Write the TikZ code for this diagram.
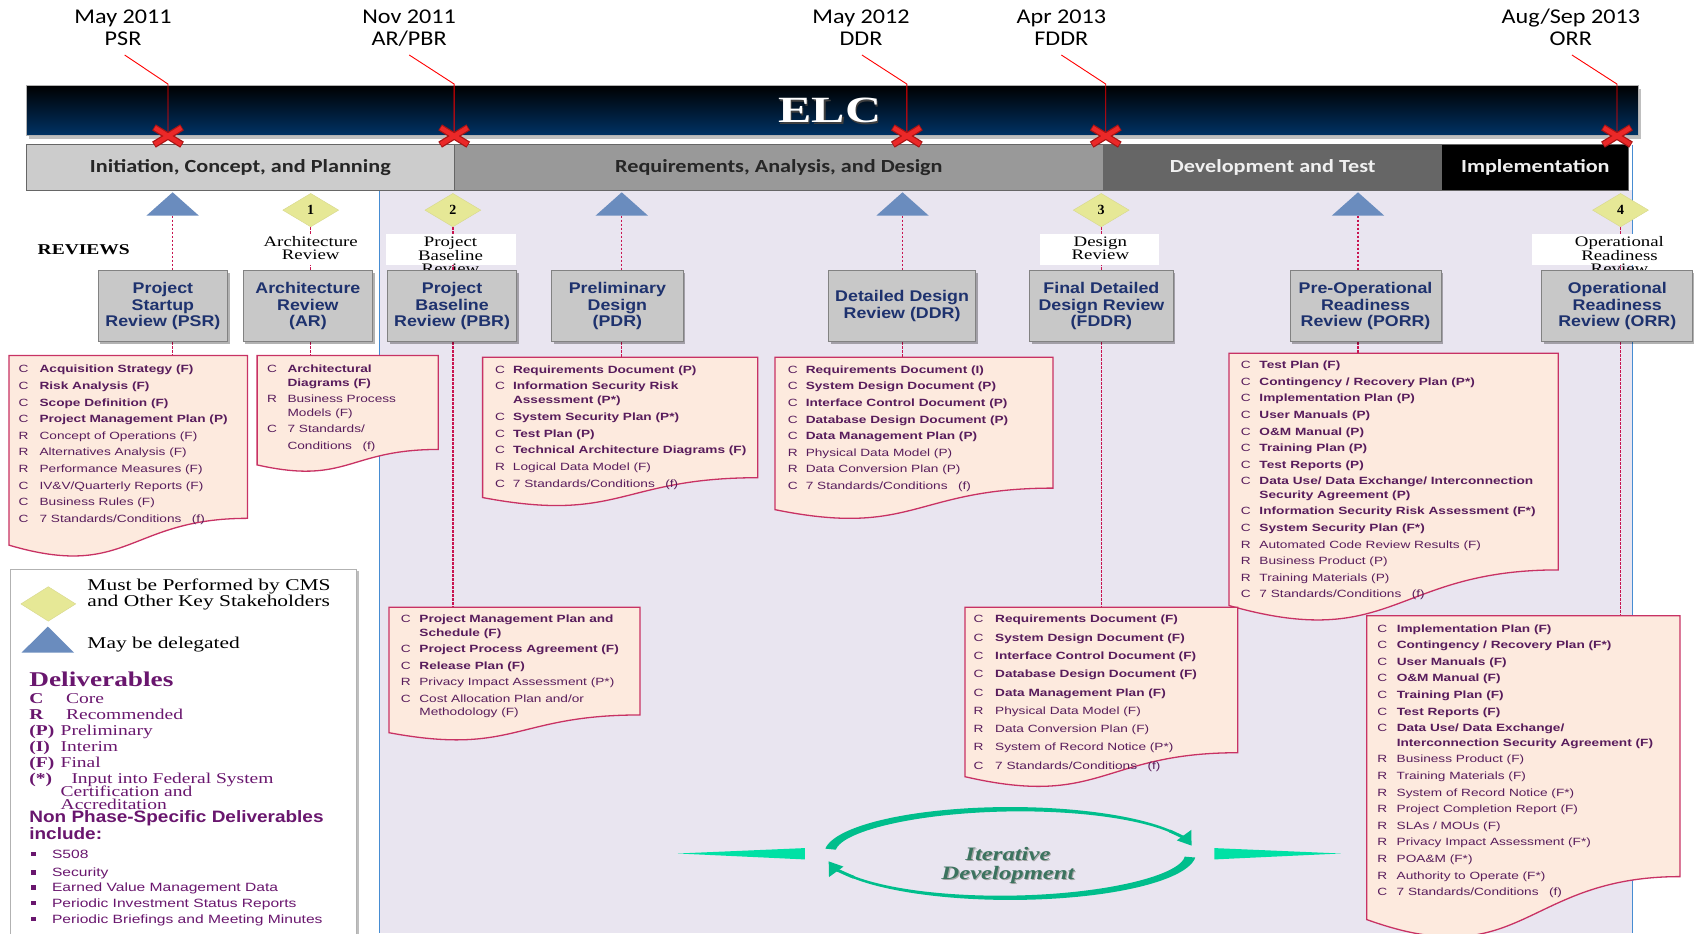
\documentclass[tikz,border=0pt]{standalone}
\usepackage{fontspec}
\usepackage{array}
\usetikzlibrary{shapes.geometric,arrows.meta,shadows,fit}
\setmainfont{Liberation Serif}
\newfontfamily\datefont{Carlito}[FakeStretch=1.15]
\newfontfamily\phasefont{Carlito}[FakeStretch=1.2]
\newfontfamily\elcfont{Liberation Serif}[FakeStretch=1.35]
\newfontfamily\revfont{Liberation Sans}[FakeStretch=1.15]
\newfontfamily\delfont{Liberation Sans}[FakeStretch=1.3]
\newfontfamily\labfont{Liberation Serif}[FakeStretch=1.3]
\newfontfamily\legsans{Liberation Sans}[FakeStretch=1.15]
\newfontfamily\bulfont{Liberation Sans}[FakeStretch=1.3]
\definecolor{lav}{RGB}{233,229,240}
\definecolor{navytxt}{RGB}{30,50,110}
\definecolor{delc}{RGB}{88,28,92}
\definecolor{docfill}{RGB}{253,234,222}
\definecolor{docline}{RGB}{200,50,100}
\definecolor{dashc}{RGB}{200,20,80}
\definecolor{triblue}{RGB}{106,140,190}
\definecolor{diayel}{RGB}{230,232,150}
\definecolor{diaedge}{RGB}{215,215,140}
\definecolor{revfill}{RGB}{200,200,200}
\definecolor{revline}{RGB}{130,130,130}
\definecolor{tealA}{RGB}{0,190,140}
\definecolor{tealB}{RGB}{0,225,165}
\definecolor{bluel}{RGB}{70,140,210}
\definecolor{legp}{RGB}{105,22,110}
\definecolor{itertxt}{RGB}{60,115,95}
\definecolor{elcblue}{RGB}{0,50,100}
\definecolor{xred}{RGB}{235,40,40}
\definecolor{xdark}{RGB}{170,20,20}
\definecolor{phA}{RGB}{204,204,204}
\definecolor{phB}{RGB}{153,153,153}
\definecolor{phC}{RGB}{102,102,102}
\pgfdeclarelayer{bg}
\pgfsetlayers{bg,main}
\newcommand\docshape[4]{%
  \draw[docst] (#1,#2) -- (#3,#2) -- (#3,{#2+0.802*#4}) .. controls ({(#1+#3)/2},{#2+0.802*#4}) and ({(#1+#3)/2},{#2+1.1075*#4}) .. (#1,{#2+0.934*#4}) -- cycle;}
\newcommand\tri[3]{%
  \fill[triblue] ({#2-24.25},#3) -- (#2,{#3-21.6}) -- ({#2+24.25},#3) -- cycle;
  \coordinate (#1) at (#2,#3);}
\newcommand\xmk[3]{%
  \coordinate (#1) at (#2,#3);
  \draw[line width=7pt, xdark] ({#2-13},{#3-8}) -- ({#2+13},{#3+8}) ({#2-13},{#3+8}) -- ({#2+13},{#3-8});
  \draw[line width=4.5pt, xred] ({#2-12.3},{#3-7.6}) -- ({#2+12.3},{#3+7.6}) ({#2-12.3},{#3+7.6}) -- ({#2+12.3},{#3-7.6});}
\newcommand\rbox[7]{%
  \node[#6, minimum width={(#4-#2)*1.0804pt}, minimum height={(#5-#3)*1.0804pt}] (#1) at ({(#2+#4)/2},{(#3+#5)/2}) {#7};}
\begin{document}
\begin{tikzpicture}[x=1.0804pt,y=-1.0804pt,
  docst/.style={fill=docfill, draw=docline, line width=1.3pt},
  dtxt/.style={inner sep=0pt, anchor=base west, text=delc, font=\delfont\fontsize{10.5}{#1}\selectfont},
  rev/.style={draw=revline, fill=revfill, line width=0.9pt, inner sep=0pt, align=center, text=navytxt,
    font=\revfont\bfseries\fontsize{15.5}{16.7}\selectfont,
    drop shadow={shadow xshift=2pt, shadow yshift=-2pt, fill=black, opacity=0.3}},
  phase/.style={draw=black!60, line width=0.8pt, inner sep=0pt, font=\phasefont\bfseries\fontsize{18.5}{20}\selectfont},
  dia/.style={diamond, fill=diayel, draw=diaedge, inner sep=0pt, minimum width=56pt, minimum height=33.5pt,
    font=\bfseries\fontsize{14}{14}\selectfont},
  dsh/.style={draw=dashc, line width=1.3pt, dash pattern=on 2.5pt off 1.5pt},
  redl/.style={draw=red, line width=0.9pt},
  dt/.style={inner sep=0pt, anchor=base, font=\datefont\fontsize{21}{22.4}\selectfont},
  lab/.style={inner sep=0pt, anchor=base, font=\labfont\fontsize{14.5}{12.8}\selectfont},
  legs/.style={inner sep=0pt, anchor=base west, font=\labfont\fontsize{16.5}{16.2}\selectfont},
  legd/.style={inner sep=0pt, anchor=base west, text=legp, font=\labfont\fontsize{15}{15}\selectfont},
  bul/.style={inner sep=0pt, anchor=base west, text=legp, font=\bulfont\fontsize{12}{12}\selectfont}
]
\useasboundingbox (0,0) rectangle (1568,864);
\clip (0,0) rectangle (1568,864);

% ---------- ELC bar and phases ----------
\node[fit={(24.5,78.7) (1516.6,125)}, inner sep=0pt, top color=black, bottom color=elcblue, draw=gray!60,
  drop shadow={shadow xshift=3pt, shadow yshift=-4pt, fill=black, opacity=0.25}] (elc) {};
\node[text=black!75, font=\elcfont\bfseries\fontsize{37}{37}\selectfont] at (769.5,104) {ELC};
\node[text=white, font=\elcfont\bfseries\fontsize{37}{37}\selectfont] (elct) at (768,102.5) {ELC};

\rbox{ph1}{24.5}{134}{420.4}{176}{phase, fill=phA, text=black!85}{Initiation, Concept, and Planning}
\rbox{ph2}{420.4}{134}{1021.5}{176}{phase, fill=phB, text=black!85}{Requirements, Analysis, and Design}
\rbox{ph3}{1021.5}{134}{1334.6}{176}{phase, fill=phC, text=white!94!black}{Development and Test}
\rbox{ph4}{1334.6}{134}{1507.7}{176}{phase, fill=black, text=white!94!black}{Implementation}

% ---------- dates and red markers ----------
\node[dt] (dt1) at (113.9,21.3) {\begin{tabular}[t]{@{}c@{}}May 2011\\PSR\end{tabular}};
\node[dt] (dt2) at (378.7,21.3) {\begin{tabular}[t]{@{}c@{}}Nov 2011\\AR/PBR\end{tabular}};
\node[dt] (dt3) at (797,21.3) {\begin{tabular}[t]{@{}c@{}}May 2012\\DDR\end{tabular}};
\node[dt] (dt4) at (982.4,21.3) {\begin{tabular}[t]{@{}c@{}}Apr 2013\\FDDR\end{tabular}};
\node[dt] (dt5) at (1454,21.3) {\begin{tabular}[t]{@{}c@{}}Aug/Sep 2013\\ORR\end{tabular}};
\coordinate (ra1) at (115.4,50.9); \coordinate (rb1) at (155.5,77.8);
\coordinate (ra2) at (378.8,50.9); \coordinate (rb2) at (420.4,77.8);
\coordinate (ra3) at (797.8,50.9); \coordinate (rb3) at (839.4,77.8);
\coordinate (ra4) at (982.4,50.9); \coordinate (rb4) at (1023.5,77.8);
\coordinate (ra5) at (1455,50.9); \coordinate (rb5) at (1496.7,77.8);
\coordinate (xc1) at (155.5,125.9); \coordinate (xc2) at (420.4,125.9);
\coordinate (xc3) at (839.4,125.9); \coordinate (xc4) at (1023.5,125.9);
\coordinate (xc5) at (1496.7,125.9);
\foreach \i in {1,...,5} {\draw[redl] (ra\i) -- (rb\i) -- (xc\i);}
\xmk{x1}{155.5}{125.9}
\xmk{x2}{420.4}{125.9}
\xmk{x3}{839.4}{125.9}
\xmk{x4}{1023.5}{125.9}
\xmk{x5}{1496.7}{125.9}

% ---------- triangles and diamonds ----------
\tri{tpsr}{159.8}{199.6}
\tri{tpdr}{575.5}{199.6}
\tri{tddr}{835.4}{199.6}
\tri{tporr}{1257}{199.6}
\node[dia] (d1) at (287.6,194.5) {1};
\node[dia] (d2) at (419.2,194.5) {2};
\node[dia] (d3) at (1019.3,194.5) {3};
\node[dia] (d4) at (1500,194.5) {4};

\node[font=\labfont\bfseries\fontsize{15}{15}\selectfont] (reviews) at (77.5,231.5) {REVIEWS};

% ---------- review boxes ----------
\rbox{psr}{91}{250.5}{210.6}{316.2}{rev}{Project\\Startup\\Review (PSR)}
\rbox{ar}{225}{250.5}{345}{316.2}{rev}{Architecture\\Review\\(AR)}
\rbox{pbr}{358.7}{250.5}{478.3}{316.2}{rev}{Project\\Baseline\\Review (PBR)}
\rbox{pdr}{510.5}{250.5}{632.4}{316.2}{rev}{Preliminary\\Design\\(PDR)}
\rbox{ddr}{767}{250.5}{903}{316.2}{rev}{Detailed Design\\Review (DDR)}
\rbox{fddr}{953}{250.5}{1086}{316.2}{rev}{Final Detailed\\Design Review\\(FDDR)}
\rbox{porr}{1194}{250.5}{1334}{316.2}{rev}{Pre-Operational\\Readiness\\Review (PORR)}
\rbox{orr}{1427}{250.5}{1567}{316.2}{rev}{Operational\\Readiness\\Review (ORR)}

% ---------- deliverable documents ----------
\coordinate (dpsr) at (159.8,329); \coordinate (dar) at (287.6,329);
\coordinate (dpbr) at (419.2,562); \coordinate (dpdr) at (575.5,330.7);
\coordinate (dddr) at (835.4,330.7); \coordinate (dfddr) at (1019.3,562);
\coordinate (dporr) at (1257,327); \coordinate (dorr) at (1500,570);

\docshape{8.3}{329}{229}{188}
\docshape{238}{329}{405.7}{108.5}
\docshape{446.7}{330.7}{701.4}{139}
\docshape{717.3}{330.7}{974.6}{151}
\docshape{360}{562}{592.4}{124.4}
\docshape{1137.6}{327}{1442.4}{250}
\docshape{893.2}{562}{1145.6}{168}
\docshape{1265}{570}{1555}{301}

\node[dtxt=16.6] (lpsr) at (17,345.1) {\begin{tabular}[t]{@{}p{21pt}@{}l@{}}
C&\textbf{Acquisition Strategy (F)}\\
C&\textbf{Risk Analysis (F)}\\
C&\textbf{Scope Definition (F)}\\
C&\textbf{Project Management Plan (P)}\\
R&Concept of Operations (F)\\
R&Alternatives Analysis (F)\\
R&Performance Measures (F)\\
C&IV\&V/Quarterly Reports (F)\\
C&Business Rules (F)\\
C&7 Standards/Conditions\quad(f)
\end{tabular}};

\node[dtxt=16.6] (lar) at (247,345.1) {\begin{tabular}[t]{@{}p{20.5pt}@{}l@{}}
C&\textbf{Architectural}\\[-3.3pt]
&\textbf{Diagrams (F)}\\
R&Business Process\\[-3.3pt]
&Models (F)\\
C&7 Standards/\\
&Conditions\quad(f)
\end{tabular}};

\node[dtxt=16.7] (lpdr) at (458,345.3) {\begin{tabular}[t]{@{}p{18pt}@{}l@{}}
C&\textbf{Requirements Document (P)}\\
C&\textbf{Information Security Risk}\\[-2.8pt]
&\textbf{Assessment (P*)}\\
C&\textbf{System Security Plan (P*)}\\
C&\textbf{Test Plan (P)}\\
C&\textbf{Technical Architecture Diagrams (F)}\\
R&Logical Data Model (F)\\
C&7 Standards/Conditions\quad(f)
\end{tabular}};

\node[dtxt=16.65] (lddr) at (729,345.3) {\begin{tabular}[t]{@{}p{18pt}@{}l@{}}
C&\textbf{Requirements Document (I)}\\
C&\textbf{System Design Document (P)}\\
C&\textbf{Interface Control Document (P)}\\
C&\textbf{Database Design Document (P)}\\
C&\textbf{Data Management Plan (P)}\\
R&Physical Data Model (P)\\
R&Data Conversion Plan (P)\\
C&7 Standards/Conditions\quad(f)
\end{tabular}};

\node[dtxt=16.6] (lpbr) at (370.8,576.5) {\begin{tabular}[t]{@{}p{18.6pt}@{}l@{}}
C&\textbf{Project Management Plan and}\\[-3.3pt]
&\textbf{Schedule (F)}\\
C&\textbf{Project Process Agreement (F)}\\
C&\textbf{Release Plan (F)}\\
R&Privacy Impact Assessment (P*)\\
C&Cost Allocation Plan and/or\\[-3.3pt]
&Methodology (F)
\end{tabular}};

\node[dtxt=16.6] (lporr) at (1148.3,341.3) {\begin{tabular}[t]{@{}p{18.7pt}@{}l@{}}
C&\textbf{Test Plan (F)}\\
C&\textbf{Contingency / Recovery Plan (P*)}\\
C&\textbf{Implementation Plan (P)}\\
C&\textbf{User Manuals (P)}\\
C&\textbf{O\&M Manual (P)}\\
C&\textbf{Training Plan (P)}\\
C&\textbf{Test Reports (P)}\\
C&\textbf{Data Use/ Data Exchange/ Interconnection}\\[-3.3pt]
&\textbf{Security Agreement (P)}\\
C&\textbf{Information Security Risk Assessment (F*)}\\
C&\textbf{System Security Plan (F*)}\\
R&Automated Code Review Results (F)\\
R&Business Product (P)\\
R&Training Materials (P)\\
C&7 Standards/Conditions\quad(f)
\end{tabular}};

\node[dtxt=18.3] (lfddr) at (901,576.5) {\begin{tabular}[t]{@{}p{21.6pt}@{}l@{}}
C&\textbf{Requirements Document (F)}\\
C&\textbf{System Design Document (F)}\\
C&\textbf{Interface Control Document (F)}\\
C&\textbf{Database Design Document (F)}\\
C&\textbf{Data Management Plan (F)}\\
R&Physical Data Model (F)\\
R&Data Conversion Plan (F)\\
R&System of Record Notice (P*)\\
C&7 Standards/Conditions\quad(f)
\end{tabular}};

\node[dtxt=16.6] (lorr) at (1274.8,585.1) {\begin{tabular}[t]{@{}p{19.3pt}@{}l@{}}
C&\textbf{Implementation Plan (F)}\\
C&\textbf{Contingency / Recovery Plan (F*)}\\
C&\textbf{User Manuals (F)}\\
C&\textbf{O\&M Manual (F)}\\
C&\textbf{Training Plan (F)}\\
C&\textbf{Test Reports (F)}\\
C&\textbf{Data Use/ Data Exchange/}\\[-2pt]
&\textbf{Interconnection Security Agreement (F)}\\
R&Business Product (F)\\
R&Training Materials (F)\\
R&System of Record Notice (F*)\\
R&Project Completion Report (F)\\
R&SLAs / MOUs (F)\\
R&Privacy Impact Assessment (F*)\\
R&POA\&M (F*)\\
R&Authority to Operate (F*)\\
C&7 Standards/Conditions\quad(f)
\end{tabular}};

% ---------- legend ----------
\node[draw=gray!60, fill=white, line width=0.8pt, fit={(10,527) (329.5,880)}, inner sep=0pt,
  drop shadow={shadow xshift=3pt, shadow yshift=-2pt, fill=black, opacity=0.25}] (leg) {};
\node[dia, minimum width=55pt, minimum height=34.6pt] (ldia) at (44.7,559) {};
\fill[triblue] (20,604) -- (44.3,580) -- (68.5,604) -- cycle;
\node[legs] (lt1) at (80.8,546.5) {\begin{tabular}[t]{@{}l@{}}Must be Performed by CMS\\and Other Key Stakeholders\end{tabular}};
\node[legs] (lt2) at (80.8,600) {May be delegated};
\node[inner sep=0pt, anchor=base west, text=legp, font=\labfont\bfseries\fontsize{21}{21}\selectfont] (ldel) at (27,635.5) {Deliverables};
\node[legd] (k1) at (27,651) {\textbf{C}};   \node[legd] (v1) at (61,651) {Core};
\node[legd] (k2) at (27,666) {\textbf{R}};   \node[legd] (v2) at (61,666) {Recommended};
\node[legd] (k3) at (27,681) {\textbf{(P)}}; \node[legd] (v3) at (56,681) {Preliminary};
\node[legd] (k4) at (27,695.5) {\textbf{(I)}}; \node[legd] (v4) at (56,695.5) {Interim};
\node[legd] (k5) at (27,710) {\textbf{(F)}}; \node[legd] (v5) at (56,710) {Final};
\node[legd] (k6) at (27,725) {\textbf{(*)}}; \node[legd] (v6) at (66,725) {Input into Federal System};
\node[legd] (v7) at (56,737) {Certification and};
\node[legd] (v8) at (56,749) {Accreditation};
\node[inner sep=0pt, anchor=base west, text=legp, font=\legsans\bfseries\fontsize{16.5}{16.5}\selectfont] (lnp) at (27,761.5) {Non Phase-Specific Deliverables};
\node[inner sep=0pt, anchor=base west, text=legp, font=\legsans\bfseries\fontsize{16.5}{16.5}\selectfont] (lnp2) at (27,777.5) {include:};
\foreach \yy/\tt in {790.5/S508, 807.5/Security, 821.6/Earned Value Management Data, 836/Periodic Investment Status Reports, 850.6/Periodic Briefings and Meeting Minutes} {
  \fill[legp] (29,{\yy-2}) rectangle (33,{\yy+2});
  \node[bul] at (48,{\yy+4}) {\tt};
}

% ---------- iterative development ----------
\fill[tealB] (627.5,790) -- (745,785) -- (745,795.5) -- cycle;
\fill[tealB] (1124,785) -- (1241,790) -- (1124,795.5) -- cycle;
\fill[tealA] plot[domain=186:332, samples=60, variable=\t] ({935+172*cos(\t)},{790+43*sin(\t)})
  -- plot[domain=332:186, samples=60, variable=\t] ({935+(172-2.8-7*((332-\t)/146)^2)*cos(\t)},{790+(43-2.8-7*((332-\t)/146)^2)*sin(\t)}) -- cycle;
\draw[tealA, line width=3pt, -{Triangle[length=13pt,width=17pt]}] ({935+170.6*cos(330)},{790+41.6*sin(330)}) arc[start angle=330, end angle=350, x radius=170.6, y radius=41.6];
\fill[tealA] plot[domain=5:150, samples=60, variable=\t] ({935+172*cos(\t)},{790+43*sin(\t)})
  -- plot[domain=150:5, samples=60, variable=\t] ({935+(172-2.8-7*((\t-150)/145)^2)*cos(\t)},{790+(43-2.8-7*((\t-150)/145)^2)*sin(\t)}) -- cycle;
\draw[tealA, line width=3pt, -{Triangle[length=13pt,width=17pt]}] ({935+170.6*cos(148)},{790+41.6*sin(148)}) arc[start angle=148, end angle=170, x radius=170.6, y radius=41.6];
\node[align=center, text=black!35, font=\labfont\bfseries\itshape\fontsize{19}{19.5}\selectfont] at (934,802) {Iterative\\Development};
\node[align=center, text=itertxt, font=\labfont\bfseries\itshape\fontsize{19}{19.5}\selectfont] (iter) at (933,801) {Iterative\\Development};

% ---------- background layer ----------
\begin{pgfonlayer}{bg}
\fill[white] (0,0) rectangle (1568,864);
\fill[lav] (351,176) rectangle (1511,864);
\draw[bluel, line width=1.3pt] (351,176) -- (351,864);
\draw[bluel, line width=1.3pt] (1511,134) -- (1511,864);
% connectors
\draw[dsh] (tpsr) -- (tpsr |- psr.north);
\draw[dsh] (tpsr |- psr.south) -- (dpsr);
\draw[dsh] (d1.south) -- (d1.south |- ar.north);
\draw[dsh] (d1.south |- ar.south) -- (dar);
\draw[dsh] (d2.south) -- (d2.south |- pbr.north);
\draw[dsh] (d2.south |- pbr.south) -- (dpbr);
\draw[dsh] (tpdr) -- (tpdr |- pdr.north);
\draw[dsh] (tpdr |- pdr.south) -- (dpdr);
\draw[dsh] (tddr) -- (tddr |- ddr.north);
\draw[dsh] (tddr |- ddr.south) -- (dddr);
\draw[dsh] (d3.south) -- (d3.south |- fddr.north);
\draw[dsh] (d3.south |- fddr.south) -- (dfddr);
\draw[dsh] (tporr) -- (tporr |- porr.north);
\draw[dsh] (tporr |- porr.south) -- (dporr);
\draw[dsh] (d4.south) -- (d4.south |- orr.north);
\draw[dsh] (d4.south |- orr.south) -- (dorr);
% review labels
\fill[white] (357,217) rectangle (478,245);
\fill[white] (963,217) rectangle (1073,245);
\fill[white] (1418,217) rectangle (1568,245);
\fill[white] (242,217) rectangle (333,245);
\node[lab] (lab1) at (287.6,228) {\begin{tabular}[t]{@{}c@{}}Architecture\\Review\end{tabular}};
\node[lab] (lab2) at (417,228.3) {\begin{tabular}[t]{@{}c@{}}Project\\Baseline\\Review\end{tabular}};
\node[lab] (lab3) at (1018.5,227.7) {\begin{tabular}[t]{@{}c@{}}Design\\Review\end{tabular}};
\node[lab] (lab4) at (1499,228) {\begin{tabular}[t]{@{}c@{}}Operational\\Readiness\\Review\end{tabular}};
\end{pgfonlayer}
\end{tikzpicture}
\end{document}
